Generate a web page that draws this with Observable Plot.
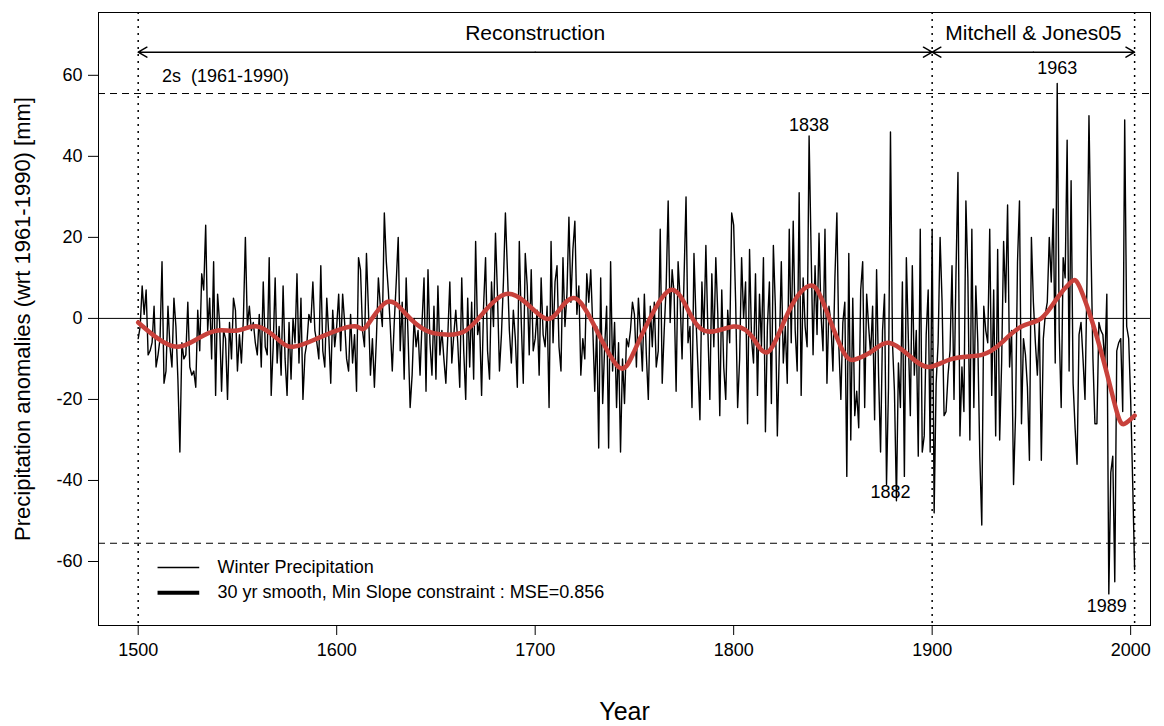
<!DOCTYPE html>
<html><head><meta charset="utf-8">
<script src="https://cdn.jsdelivr.net/npm/d3@7"></script>
<script src="https://cdn.jsdelivr.net/npm/@observablehq/plot@0.6"></script>
<style>body{margin:0;background:#fff;font-family:"Liberation Sans",Arial,sans-serif}</style>
</head><body><div id="chart"></div>
<script>
const startYear = 1500;
const precip = [
-5,-2,8,1,7,-9,-8,-6,3,-12,
-9,-5,14,-16,-13,3,-7,-12,5,-2,
-15,-33,-6,-10,-9,4,-12,-14,-13,-17,
2,-8,11,7,23,-3,5,-10,14,-19,
6,-1,-18,-3,-5,-20,-1,-10,5,2,
-13,-4,-11,0,20,-2,3,-3,-1,-6,
-9,1,-12,9,-7,-9,15,-19,-7,10,
-11,-2,-14,8,-10,-19,-1,-15,0,-6,
11,-11,5,-20,-9,-6,1,-1,9,-3,
-6,-10,13,-8,-12,5,-4,-16,2,-7,
-2,6,-8,6,-1,-10,-13,1,-11,-4,
-18,15,12,-3,-7,16,2,-14,-5,-17,
-5,10,3,-2,26,14,7,-2,-13,-1,
9,20,-8,4,-15,10,-5,-22,-14,0,
-7,-3,-14,-1,10,-18,12,-6,-14,3,
-15,8,-9,-3,-10,-16,-4,9,-11,-4,
2,-6,-17,10,-8,-20,5,-12,4,-15,
19,-4,-1,-19,3,15,-8,-15,9,-2,
21,6,-13,-4,9,26,12,-3,-11,2,
-5,-17,19,-1,-16,16,8,-9,12,-8,
-5,2,-14,10,-4,-7,3,-22,19,-6,
9,13,-7,-13,15,-2,6,25,4,17,
24,1,8,-14,-5,-10,11,4,12,-2,
-18,-2,-32,10,-21,-7,3,-32,14,-13,
-1,-22,-6,-33,-10,-21,-5,-7,-3,4,
1,-12,5,-3,-13,6,-9,-20,3,-7,
4,-12,-8,22,-16,-3,8,29,-1,12,
6,-18,14,5,-10,10,30,-6,-2,-22,
16,0,-12,-25,9,-4,18,-3,-20,11,
-7,15,1,-24,7,-12,-20,2,-6,26,
23,4,-22,-10,15,0,9,-26,17,-5,
-11,11,-19,6,-7,15,-28,-2,9,-21,
18,3,-29,-8,14,-11,-2,-16,22,-6,
24,-3,-13,31,-19,10,-2,-7,45,17,
-9,13,-4,21,1,-8,22,-16,3,-1,
-13,10,26,-7,-20,-1,4,-39,16,-30,
5,-24,-18,-27,7,14,-22,6,-2,-9,
3,-25,12,-14,-33,-3,6,-41,-17,46,
-6,-18,-45,-11,-22,9,-39,15,-5,-24,
13,-14,-3,-34,22,-33,-29,-4,7,-33,
22,-48,-16,-6,20,4,-24,-23,-14,-8,
13,-20,11,36,-29,-12,-23,29,10,-30,
22,-22,8,-6,-34,-51,3,-3,-6,22,
-19,7,-29,17,-30,-11,19,4,28,-12,
-3,-41,-24,14,29,-26,-5,-9,-17,-35,
20,4,-6,-14,-1,-35,-5,1,4,20,
9,27,-11,58,-3,-22,15,10,44,-13,
34,-16,-27,-36,-4,-1,-10,-20,9,50,
18,-10,-26,-26,-1,-3,-4,-11,6,-68,
-38,-34,-65,-8,-6,-5,-23,49,-2,-5,
-20,-40,-62];
const smoothYears = [1500,1510,1520,1530,1540,1550,1560,1570,1578,1590,1600,1610,1615,1625,1635,1645,1655,1665,1675,1685,1695,1705,1712,1720,1730,1742,1750,1760,1768,1775,1785,1800,1810,1818,1828,1838,1845,1855,1862,1870,1878,1888,1898,1910,1925,1935,1945,1955,1963,1970,1975,1985,1993,1997,2002];
const smoothVals = [-1,-5,-7,-5,-3,-3,-2,-5,-7,-5,-3,-2,-2,4,1,-3,-4,-3,2,6,4,0,2,5,-2,-12,-8,2,7,4,-3,-2,-5,-8,2,8,4,-8,-10,-8,-6,-9,-12,-10,-9,-6,-2,0,5,9,7,-8,-23,-26,-24];
const xTicks = [1500,1600,1700,1800,1900,2000];
const yTicks = [-60,-40,-20,0,20,40,60];
const twoSigma = 55.5;

const raw = precip.map((v,i)=>({year:startYear+i, v}));
const smooth = smoothYears.map((y,i)=>({year:y, v:smoothVals[i]}));
const red = "#c8413b";
const chart = Plot.plot({
  width:1164, height:726,
  marginLeft:98, marginRight:14, marginTop:12, marginBottom:101,
  style:{fontSize:"18px", fontFamily:"Liberation Sans, Arial, sans-serif", color:"#000", background:"#fff"},
  x:{domain:[1480,2010]},
  y:{domain:[-75.8,75.5]},
  marks:[
    Plot.frame({stroke:"#000"}),
    Plot.axisX({ticks:xTicks, tickFormat:d=>String(d), tickSize:10, tickPadding:8, label:null, fontSize:18}),
    Plot.axisY({ticks:yTicks, tickFormat:d=>String(d), tickSize:10, tickPadding:6, label:null, fontSize:18}),
    Plot.ruleY([0], {stroke:"#000"}),
    Plot.ruleY([twoSigma,-twoSigma], {stroke:"#000", strokeDasharray:"7,5"}),
    Plot.ruleX([1500,1900,2002], {stroke:"#000", strokeDasharray:"2,5", strokeWidth:1.5}),
    Plot.arrow([{a:1700,b:1500},{a:1700,b:1900},{a:1951,b:1900},{a:1951,b:2002}], {x1:"a", x2:"b", y1:65.7, y2:65.7, stroke:"#000", headLength:10}),
    Plot.text([{x:1700,t:"Reconstruction"},{x:1951,t:"Mitchell & Jones05"}], {x:"x", y:70.4, text:"t", fontSize:21}),
    Plot.text(["2s  (1961-1990)"], {x:1512, y:59.8, text:d=>d, textAnchor:"start", fontSize:18}),
    Plot.line(raw, {x:"year", y:"v", stroke:"#000", strokeWidth:1.4}),
    Plot.line(smooth, {x:"year", y:"v", stroke:red, strokeWidth:4.5, curve:"natural"}),
    Plot.text([{x:1838,y:47.7,t:"1838"},{x:1879,y:-43,t:"1882"},{x:1963,y:61.7,t:"1963"},{x:1988,y:-71,t:"1989"}], {x:"x", y:"y", text:"t", fontSize:18}),
    Plot.ruleY([-61.5], {x1:1510, x2:1531, stroke:"#000", strokeWidth:1.4}),
    Plot.ruleY([-67.7], {x1:1510, x2:1531, stroke:"#000", strokeWidth:4}),
    Plot.text([{y:-61.5,t:"Winter Precipitation"},{y:-67.7,t:"30 yr smooth, Min Slope constraint : MSE=0.856"}], {x:1540, y:"y", text:"t", textAnchor:"start", fontSize:18}),
    Plot.text(["Year"], {frameAnchor:"bottom", dy:94, text:d=>d, fontSize:25}),
    Plot.text(["Precipitation anomalies (wrt 1961-1990) [mm]"], {frameAnchor:"left", dx:-76, rotate:-90, textAnchor:"middle", text:d=>d, fontSize:22})
  ]
});
document.getElementById("chart").append(chart);
</script></body></html>
